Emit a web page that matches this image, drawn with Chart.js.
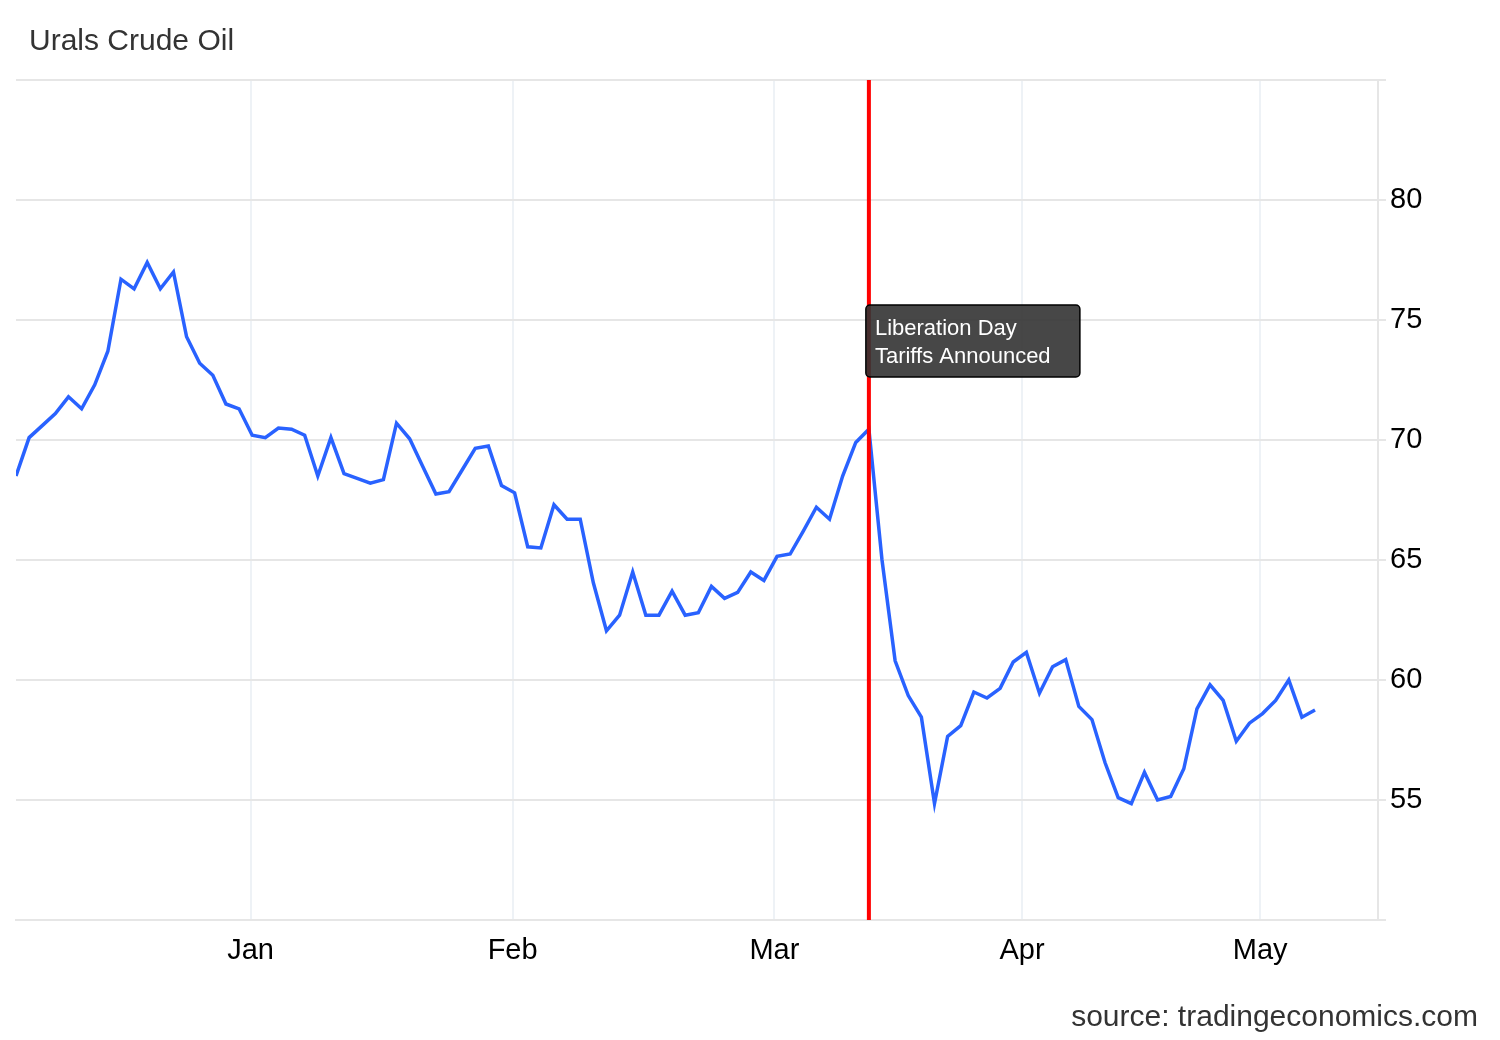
<!DOCTYPE html>
<html>
<head>
<meta charset="utf-8">
<title>Urals Crude Oil</title>
<script src="https://cdn.jsdelivr.net/npm/chart.js@4.4.1/dist/chart.umd.min.js"></script>
<style>
  html, body { margin: 0; padding: 0; background: #fff; }
  #wrap { position: relative; width: 1500px; height: 1040px; }
</style>
</head>
<body>
<div id="wrap"><canvas id="oilChart" width="1500" height="1040"></canvas></div>
<script>
// daily Urals prices, USD/bbl
const prices = [
  68.5, 70.1, 70.6, 71.1, 71.8, 71.3, 72.3, 73.7, 76.7, 76.3,
  77.4, 76.3, 77.0, 74.3, 73.2, 72.7, 71.5, 71.3, 70.2, 70.1,
  70.5, 70.45, 70.2, 68.5, 70.1, 68.6, 68.4, 68.2, 68.35, 70.7,
  70.05, 68.9, 67.75, 67.85, 68.75, 69.65, 69.75, 68.1, 67.8, 65.55,
  65.5, 67.3, 66.7, 66.7, 64.05, 62.05, 62.7, 64.5, 62.7, 62.7,
  63.7, 62.7, 62.8, 63.9, 63.4, 63.65, 64.5, 64.15, 65.15, 65.25,
  66.2, 67.2, 66.7, 68.5, 69.9, 70.45, 65.0, 60.8, 59.35, 58.45,
  54.85, 57.65, 58.1, 59.5, 59.25, 59.65, 60.75, 61.15, 59.45, 60.55,
  60.85, 58.9, 58.35, 56.55, 55.1, 54.85, 56.15, 55.0, 55.15, 56.3,
  58.8, 59.8, 59.15, 57.45, 58.2, 58.6, 59.15, 60.0, 58.45, 58.75
];

// month ticks (position in trading-day index) and their labels
const monthLabels = ['Jan', 'Feb', 'Mar', 'Apr', 'May'];
const monthPositions = [17.88, 37.85, 57.8, 76.67, 94.82];
const yTicks = [55, 60, 65, 70, 75, 80];

const eventIndex = 65;
const eventLabel = ['Liberation Day', 'Tariffs Announced'];

const chartTitle = 'Urals Crude Oil';
const sourceText = 'source: tradingeconomics.com';

const FONT = "'Liberation Sans', Arial, sans-serif";

const overlay = {
  id: 'overlay',
  afterDatasetsDraw(chart) {
    const { ctx, chartArea, scales } = chart;
    const x = scales.x.getPixelForValue(eventIndex);
    ctx.save();
    // event marker
    ctx.strokeStyle = '#ff0000';
    ctx.lineWidth = 4;
    ctx.beginPath();
    ctx.moveTo(x, chartArea.top);
    ctx.lineTo(x, chartArea.bottom);
    ctx.stroke();

    // label box
    const bx = x - 3, by = chartArea.top + 225, bw = 214, bh = 72;
    ctx.beginPath();
    ctx.roundRect(bx, by, bw, bh, 4);
    ctx.fillStyle = 'rgba(51,51,51,0.9)';
    ctx.fill();
    ctx.lineWidth = 1.5;
    ctx.strokeStyle = '#000';
    ctx.stroke();

    ctx.fillStyle = '#fff';
    ctx.font = '22px ' + FONT;
    ctx.textAlign = 'left';
    ctx.textBaseline = 'middle';
    eventLabel.forEach((t, i) => ctx.fillText(t, bx + 9, by + 24 + i * 28));
    ctx.restore();
  },
  afterDraw(chart) {
    const { ctx } = chart;
    ctx.save();
    ctx.fillStyle = '#333';
    ctx.font = '30px ' + FONT;
    ctx.textBaseline = 'alphabetic';
    ctx.textAlign = 'left';
    ctx.fillText(chartTitle, 29, 50);
    ctx.textAlign = 'right';
    ctx.fillText(sourceText, 1478, 1026);
    ctx.restore();
  }
};

const ctx = document.getElementById('oilChart').getContext('2d');
new Chart(ctx, {
  type: 'line',
  data: {
    datasets: [{
      label: chartTitle,
      data: prices.map((v, i) => ({ x: i, y: v })),
      borderColor: '#2962ff',
      borderWidth: 3.5,
      pointRadius: 0,
      tension: 0,
      fill: false
    }]
  },
  options: {
    responsive: false,
    animation: false,
    devicePixelRatio: 1,
    layout: { padding: { left: 16, top: 80, right: 0, bottom: 0 } },
    plugins: {
      legend: { display: false },
      tooltip: { enabled: false }
    },
    scales: {
      x: {
        type: 'linear',
        min: 0,
        max: 103.8,
        afterBuildTicks: (scale) => {
          scale.ticks = monthPositions.map(v => ({ value: v }));
        },
        afterFit: (scale) => { scale.height = 120; },
        ticks: {
          autoSkip: false,
          maxRotation: 0,
          padding: 14,
          color: '#000',
          font: { size: 29, family: FONT },
          callback: (value, index) => monthLabels[index]
        },
        grid: { color: '#eef2f6', lineWidth: 2, drawTicks: false },
        border: { display: true, color: '#e6e6e6', width: 2 }
      },
      y: {
        position: 'right',
        min: 50,
        max: 85,
        afterFit: (scale) => { scale.width = 122; },
        ticks: {
          stepSize: 5,
          padding: 4,
          color: '#000',
          font: { size: 29, family: FONT },
          callback: (value) => yTicks.includes(value) ? String(value) : ''
        },
        grid: { color: '#e6e6e6', lineWidth: 2, tickLength: 8, tickColor: '#e6e6e6' },
        border: { display: true, color: '#e6e6e6', width: 2 }
      }
    }
  },
  plugins: [overlay]
});
</script>
</body>
</html>
